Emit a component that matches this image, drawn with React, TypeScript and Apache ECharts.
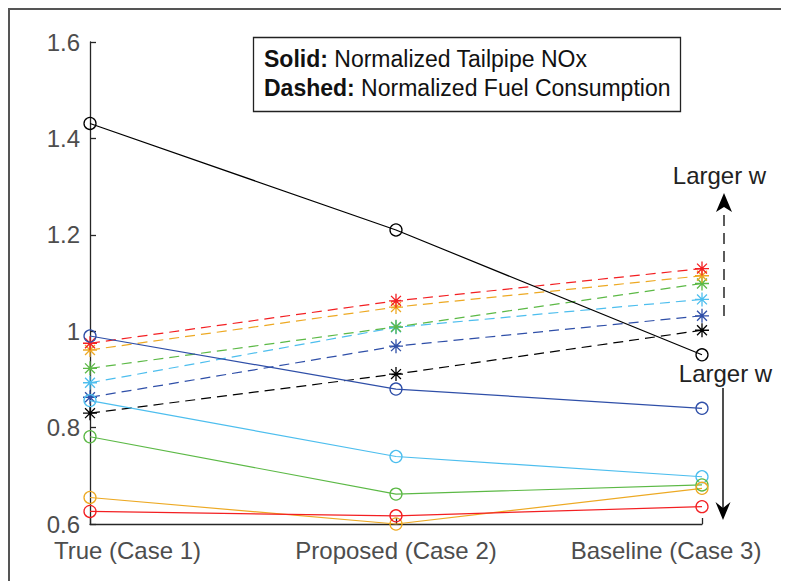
import React, { useEffect, useRef } from "react";
import * as echarts from "echarts";

const categories = ["True (Case 1)", "Proposed (Case 2)", "Baseline (Case 3)"];
const yMin = 0.6;
const yMax = 1.6;
const yStep = 0.2;

// Solid: Normalized Tailpipe NOx
const noxBlack = [1.431, 1.21, 0.951];
const noxBlue = [0.99, 0.88, 0.84];
const noxCyan = [0.856, 0.74, 0.698];
const noxGreen = [0.781, 0.662, 0.681];
const noxOrange = [0.655, 0.6, 0.674];
const noxRed = [0.626, 0.617, 0.636];

// Dashed: Normalized Fuel Consumption
const fuelBlack = [0.83, 0.911, 1.002];
const fuelBlue = [0.863, 0.969, 1.032];
const fuelCyan = [0.893, 1.008, 1.066];
const fuelGreen = [0.923, 1.009, 1.099];
const fuelOrange = [0.961, 1.05, 1.115];
const fuelRed = [0.975, 1.063, 1.13];

const C = {
  black: "#000000",
  blue: "#2f4fa8",
  cyan: "#4dbeee",
  green: "#5cb946",
  orange: "#eda923",
  red: "#f31f22",
};

const FONT = "Liberation Sans, Arial, Helvetica, sans-serif";
const ASTERISK =
  "path://M10,0 L10,20 M0,10 L20,10 M2.93,2.93 L17.07,17.07 M2.93,17.07 L17.07,2.93";

function mk(name: string, data: number[], color: string, dashed: boolean, z: number) {
  return {
    type: "line",
    name,
    data,
    z,
    clip: false,
    symbol: dashed ? ASTERISK : "circle",
    symbolSize: dashed ? 14 : 12,
    showAllSymbol: true,
    lineStyle: { color, width: 1.2, type: dashed ? [10, 6] : "solid" },
    itemStyle: { color: "rgba(0,0,0,0)", borderColor: color, borderWidth: 1.3 },
    emphasis: { disabled: true },
  };
}

export default function App() {
  const ref = useRef<HTMLDivElement>(null);
  useEffect(() => {
    if (!ref.current) return;
    const chart = echarts.init(ref.current, undefined, { renderer: "svg" });
    const labelColor = "#4d4d4d";
    const axisColor = "#262626";
    chart.setOption({
      animation: false,
      backgroundColor: "#ffffff",
      grid: { left: 82, top: 34, right: 87, bottom: 57 },
      xAxis: {
        type: "category",
        data: categories,
        boundaryGap: false,
        axisLine: { lineStyle: { color: axisColor, width: 1.3 } },
        axisTick: { show: true, inside: true, length: 6, lineStyle: { color: axisColor, width: 1.3 } },
        splitLine: { show: false },
        axisLabel: {
          margin: 14,
          interval: 0,
          fontSize: 24,
          fontFamily: FONT,
          color: labelColor,
          formatter: (v: string, i: number) =>
            i === 0 ? `{l|${v}}` : i === categories.length - 1 ? `{r|${v}}` : `{m|${v}}`,
          rich: {
            l: { padding: [0, 0, 0, 75], fontSize: 24, fontFamily: FONT, color: labelColor },
            r: { padding: [0, 72, 0, 0], fontSize: 24, fontFamily: FONT, color: labelColor },
            m: { fontSize: 24, fontFamily: FONT, color: labelColor },
          },
        },
      },
      yAxis: {
        type: "value",
        min: yMin,
        max: yMax,
        interval: yStep,
        axisLine: { show: true, lineStyle: { color: axisColor, width: 1.3 } },
        axisTick: { show: true, inside: true, length: 6, lineStyle: { color: axisColor, width: 1.3 } },
        splitLine: { show: false },
        axisLabel: {
          margin: 10,
          fontSize: 24,
          fontFamily: FONT,
          color: labelColor,
          formatter: (v: number) => String(+v.toFixed(1)),
        },
      },
      series: [
        mk("NOx black", noxBlack, C.black, false, 3),
        mk("NOx blue", noxBlue, C.blue, false, 3),
        mk("NOx cyan", noxCyan, C.cyan, false, 3),
        mk("NOx green", noxGreen, C.green, false, 3),
        mk("NOx orange", noxOrange, C.orange, false, 3),
        mk("NOx red", noxRed, C.red, false, 3),
        mk("Fuel black", fuelBlack, C.black, true, 2),
        mk("Fuel blue", fuelBlue, C.blue, true, 2),
        mk("Fuel cyan", fuelCyan, C.cyan, true, 2),
        mk("Fuel green", fuelGreen, C.green, true, 2),
        mk("Fuel orange", fuelOrange, C.orange, true, 2),
        mk("Fuel red", fuelRed, C.red, true, 2),
      ],
      graphic: [
        // figure frame (top and left)
        { type: "line", shape: { x1: 0, y1: 1, x2: 781, y2: 1 }, style: { stroke: "#555", lineWidth: 2 } },
        { type: "line", shape: { x1: 1, y1: 0, x2: 1, y2: 573 }, style: { stroke: "#555", lineWidth: 2 } },
        // legend-like text box
        {
          type: "rect",
          shape: { x: 245.5, y: 29.5, width: 427, height: 74 },
          style: { fill: "#fff", stroke: "#222", lineWidth: 1.3 },
          z: 10,
        },
        {
          type: "text",
          x: 256,
          y: 51,
          z: 11,
          style: {
            text: "{b|Solid:} Normalized Tailpipe NOx",
            verticalAlign: "middle",
            fill: "#111",
            font: `23px ${FONT}`,
            rich: { b: { fontWeight: "bold", fontSize: 23, fontFamily: FONT, fill: "#111" } },
          },
        },
        {
          type: "text",
          x: 256,
          y: 80,
          z: 11,
          style: {
            text: "{b|Dashed:} Normalized Fuel Consumption",
            verticalAlign: "middle",
            fill: "#111",
            font: `23px ${FONT}`,
            rich: { b: { fontWeight: "bold", fontSize: 23, fontFamily: FONT, fill: "#111" } },
          },
        },
        // top annotation
        {
          type: "text",
          x: 711.5,
          y: 167.5,
          z: 11,
          style: { text: "Larger w", align: "center", verticalAlign: "middle", fill: "#222", font: `24px ${FONT}` },
        },
        {
          type: "line",
          shape: { x1: 716, y1: 308, x2: 716, y2: 202 },
          style: { stroke: "#333", lineWidth: 1.6, lineDash: [11, 7] },
        },
        {
          type: "polygon",
          shape: { points: [[716, 185], [724, 204], [716, 199], [708, 204]] },
          style: { fill: "#000" },
        },
        // bottom annotation
        {
          type: "text",
          x: 717.5,
          y: 365.3,
          z: 11,
          style: { text: "Larger w", align: "center", verticalAlign: "middle", fill: "#222", font: `24px ${FONT}` },
        },
        {
          type: "line",
          shape: { x1: 715, y1: 380, x2: 715, y2: 502 },
          style: { stroke: "#222", lineWidth: 1.6 },
        },
        {
          type: "polygon",
          shape: { points: [[715, 512], [722.5, 494], [715, 500], [707.5, 494]] },
          style: { fill: "#000" },
        },
      ],
    });
    return () => chart.dispose();
  }, []);
  return <div ref={ref} style={{ width: 781, height: 573 }} />;
}
